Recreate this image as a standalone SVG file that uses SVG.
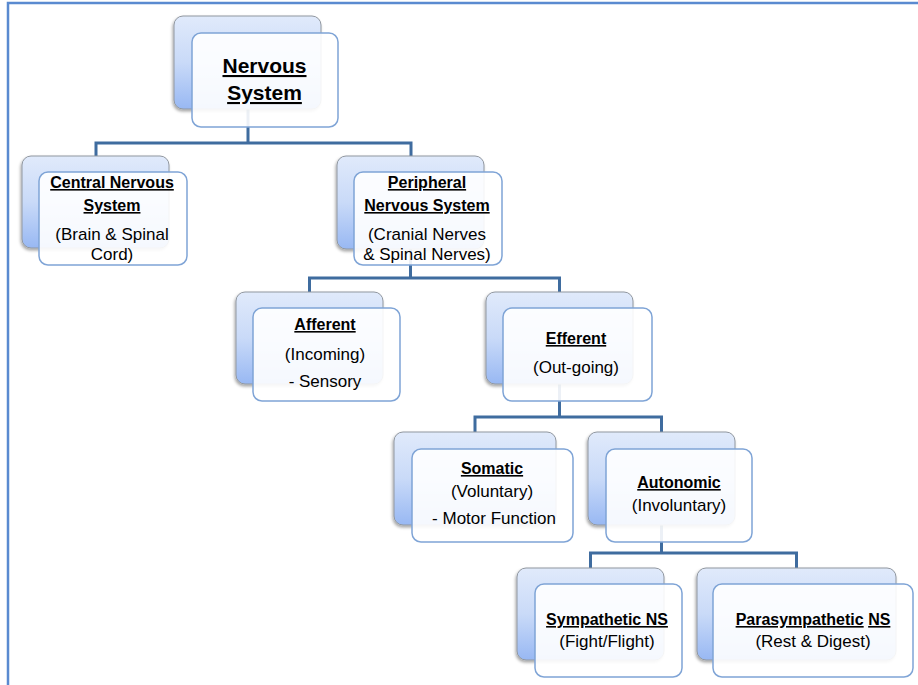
<svg xmlns="http://www.w3.org/2000/svg" width="918" height="685" viewBox="0 0 918 685">
<defs>
<linearGradient id="bg" x1="0" y1="0" x2="0" y2="1">
<stop offset="0" stop-color="#e0eafb"/>
<stop offset="0.5" stop-color="#c9daf8"/>
<stop offset="1" stop-color="#98b8f3"/>
</linearGradient>
<filter id="sh" x="-10%" y="-10%" width="120%" height="130%">
<feDropShadow dx="-1" dy="2" stdDeviation="1.5" flood-color="#000" flood-opacity="0.35"/>
</filter>
</defs>
<style>
.back{fill:url(#bg);stroke:#9097a0;stroke-width:1;filter:url(#sh)}
.front{fill:#ffffff;fill-opacity:0.9;stroke:#7fa4d6;stroke-width:1.5}
.conn{fill:none;stroke:#3f6c9f;stroke-width:3}
.t{font-family:"Liberation Sans",Arial,sans-serif;fill:#000;text-anchor:middle}
.h{font-weight:bold;font-size:16px;text-decoration:underline}
.hl{font-weight:bold;font-size:21px;text-decoration:underline}
.r{font-size:17px}
.frame{fill:none;stroke:#5a8ad0;stroke-width:2.5}
</style>
<rect width="918" height="685" fill="#ffffff"/>
<path class="frame" d="M8,685 V3 H918"/>
<g id="connectors">
<path class="conn" d="M248,109 V143 M96,156 V143 H411 V156"/>
<path class="conn" d="M410.5,249 V278 M309.5,292 V278 H559.5 V292"/>
<path class="conn" d="M559.5,384 V417 M475,432 V417 H661.5 V432"/>
<path class="conn" d="M661.5,525 V553 M590.5,568 V553 H796.5 V568"/>
</g>
<g id="nervous-system">
<rect class="back" x="174" y="16" width="147" height="93" rx="9"/>
<rect class="front" x="192" y="33" width="146" height="94" rx="9"/>
<text class="t hl" x="264.5" y="73">Nervous</text>
<text class="t hl" x="264.5" y="100">System</text>
</g>
<g id="central-ns">
<rect class="back" x="22" y="156" width="147" height="92" rx="9"/>
<rect class="front" x="39" y="172" width="148" height="93" rx="9"/>
<text class="t h" x="112" y="188">Central Nervous</text>
<text class="t h" x="112" y="211">System</text>
<text class="t r" x="112" y="240">(Brain &amp; Spinal</text>
<text class="t r" x="112" y="260">Cord)</text>
</g>
<g id="peripheral-ns">
<rect class="back" x="337" y="156" width="147" height="93" rx="9"/>
<rect class="front" x="354" y="172" width="148" height="93" rx="9"/>
<text class="t h" x="427" y="188">Peripheral</text>
<text class="t h" x="427" y="211">Nervous System</text>
<text class="t r" x="427" y="240">(Cranial Nerves</text>
<text class="t r" x="427" y="260">&amp; Spinal Nerves)</text>
</g>
<g id="afferent">
<rect class="back" x="236" y="292" width="147" height="92" rx="9"/>
<rect class="front" x="253" y="308" width="147" height="93" rx="9"/>
<text class="t h" x="325" y="330">Afferent</text>
<text class="t r" x="325" y="360">(Incoming)</text>
<text class="t r" x="325" y="387">- Sensory</text>
</g>
<g id="efferent">
<rect class="back" x="486" y="292" width="147" height="92" rx="9"/>
<rect class="front" x="503" y="308" width="149" height="93" rx="9"/>
<text class="t h" x="576" y="344">Efferent</text>
<text class="t r" x="576" y="373">(Out-going)</text>
</g>
<g id="somatic">
<rect class="back" x="394" y="432" width="162" height="93" rx="9"/>
<rect class="front" x="412" y="449" width="161" height="93" rx="9"/>
<text class="t h" x="492" y="474">Somatic</text>
<text class="t r" x="492" y="497">(Voluntary)</text>
<text class="t r" x="494" y="524">- Motor Function</text>
</g>
<g id="autonomic">
<rect class="back" x="588" y="432" width="147" height="93" rx="9"/>
<rect class="front" x="606" y="449" width="146" height="93" rx="9"/>
<text class="t h" x="679" y="488">Autonomic</text>
<text class="t r" x="679" y="511">(Involuntary)</text>
</g>
<g id="sympathetic-ns">
<rect class="back" x="517" y="568" width="147" height="92" rx="9"/>
<rect class="front" x="535" y="584" width="147" height="93" rx="9"/>
<text class="t h" x="607" y="625">Sympathetic NS</text>
<text class="t r" x="607" y="647">(Fight/Flight)</text>
</g>
<g id="parasympathetic-ns">
<rect class="back" x="697" y="568" width="199" height="92" rx="9"/>
<rect class="front" x="713" y="584" width="200" height="93" rx="9"/>
<text class="t" x="813" y="625" font-weight="bold" font-size="16px"><tspan text-decoration="underline">Parasympathetic</tspan> <tspan text-decoration="underline">NS</tspan></text>
<text class="t r" x="813" y="647">(Rest &amp; Digest)</text>
</g>
</svg>
